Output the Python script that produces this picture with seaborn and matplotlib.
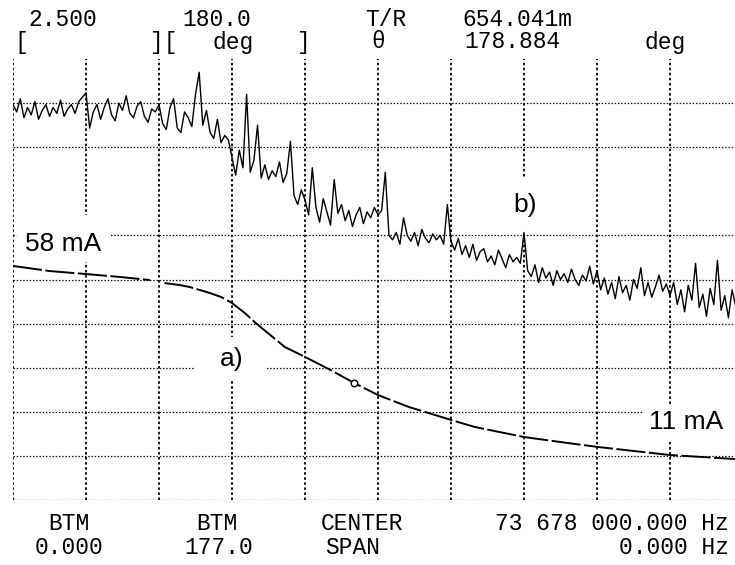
import numpy as np
import pandas as pd
import matplotlib
matplotlib.use("Agg")
import matplotlib.pyplot as plt
from matplotlib.patches import Rectangle
import seaborn as sns

sns.set_theme(style="white")
plt.rcParams["font.family"] = ["DejaVu Sans"]

# ---------------- data ----------------
# trace a): amplitude (scale 0 .. 2.5), x in sweep points (0..400 = 10 div)
amp_seg1_x = [0, 20, 40, 59, 75]
amp_seg1_y = [1.327, 1.298, 1.281, 1.264, 1.247]
amp_seg2_x = [83, 91, 97, 108, 114, 120, 127, 133, 141, 149, 160, 174, 187,
              200, 217, 240, 253, 280, 304, 321, 360, 396]
amp_seg2_y = [1.230, 1.219, 1.207, 1.173, 1.151, 1.117, 1.060, 1.003, 0.935,
              0.867, 0.811, 0.737, 0.663, 0.595, 0.527, 0.454, 0.414, 0.357,
              0.323, 0.300, 0.255, 0.232]
marker_index = 12  # analyzer marker sits on this point of segment 2

# trace b): phase in deg (scale 177 .. 180), every 2nd sweep point
phase_deg = [
    179.69, 179.64, 179.73, 179.60, 179.67, 179.62, 179.71, 179.59, 179.65, 179.69,
    179.61, 179.67, 179.63, 179.72, 179.61, 179.66, 179.69, 179.63, 179.71, 179.74,
    179.77, 179.53, 179.64, 179.69, 179.59, 179.67, 179.73, 179.62, 179.58, 179.70,
    179.65, 179.75, 179.63, 179.60, 179.68, 179.71, 179.61, 179.57, 179.66, 179.64,
    179.69, 179.56, 179.52, 179.67, 179.73, 179.53, 179.50, 179.64, 179.60, 179.54,
    179.76, 179.91, 179.55, 179.65, 179.50, 179.46, 179.59, 179.43, 179.48, 179.45,
    179.33, 179.21, 179.38, 179.26, 179.76, 179.23, 179.31, 179.55, 179.19, 179.28,
    179.18, 179.24, 179.20, 179.30, 179.16, 179.22, 179.44, 179.07, 179.01, 179.11,
    179.04, 178.94, 179.26, 178.99, 178.89, 179.05, 178.96, 178.87, 179.18, 178.95,
    179.01, 178.90, 178.97, 178.86, 178.94, 178.99, 178.88, 178.96, 178.92, 178.99,
    178.94, 178.97, 179.23, 178.80, 178.77, 178.82, 178.74, 178.92, 178.80, 178.76,
    178.82, 178.73, 178.84, 178.78, 178.75, 178.81, 178.77, 178.80, 178.74, 179.01,
    178.76, 178.70, 178.78, 178.67, 178.73, 178.65, 178.74, 178.63, 178.69, 178.71,
    178.62, 178.66, 178.60, 178.70, 178.64, 178.58, 178.67, 178.62, 178.65, 178.61,
    178.82, 178.56, 178.52, 178.60, 178.48, 178.58, 178.51, 178.55, 178.46, 178.56,
    178.50, 178.54, 178.48, 178.57, 178.50, 178.46, 178.53, 178.49, 178.59, 178.47,
    178.56, 178.43, 178.51, 178.40, 178.48, 178.37, 178.52, 178.41, 178.46, 178.36,
    178.50, 178.44, 178.58, 178.39, 178.48, 178.38, 178.45, 178.53, 178.42, 178.47,
    178.39, 178.48, 178.33, 178.43, 178.28, 178.46, 178.36, 178.61, 178.31, 178.40,
    178.25, 178.44, 178.33, 178.63, 178.29, 178.39, 178.24, 178.43, 178.32, 178.36,
]
phase_x = np.arange(0, 2 * len(phase_deg), 2)

# display annotations
top_row1 = [("2.500", 28), ("180.0", 182), ("T/R", 365), ("654.041m", 462)]
top_row2 = [("[", 14), ("][", 150), ("deg", 212), ("]", 297), ("θ", 371),
            ("178.884", 464), ("deg", 644)]
bot_row1 = [("BTM", 69, "center"), ("BTM", 217, "center"), ("CENTER", 362, "center"),
            ("73 678 000.000 Hz", 729, "right")]
bot_row2 = [("0.000", 69, "center"), ("177.0", 219, "center"), ("SPAN", 353, "center"),
            ("0.000 Hz", 729, "right")]

# ---------------- figure ----------------
W, H = 735, 565
fig = plt.figure(figsize=(W / 100, H / 100), dpi=100)
fig.patch.set_facecolor("white")

ax = fig.add_axes([13 / W, 1 - 500 / H, 730 / W, 441 / H])
ax.set_xlim(0, 400)
ax.set_ylim(0, 2.5)
ax.set_facecolor("white")
ax.set_xticks(np.arange(0, 401, 40))
ax.set_yticks([0, 0.25, 0.5, 0.75, 1.0, 1.25, 1.5, 2.0, 2.25])
ax.grid(True, axis="x", color="black", linestyle=(0, (1.4, 1.4)), linewidth=1.3)
ax.grid(True, axis="y", color="black", linestyle=(0, (1.1, 1.5)), linewidth=0.9)
ax.set_axisbelow(True)
ax.tick_params(length=0, labelleft=False, labelbottom=False)
for s in ax.spines.values():
    s.set_visible(False)

# white blanks where the labels sit on the grid
for (x0, x1, y0, y1) in [(2, 53, 1.349, 1.616),      # 58 mA
                         (99, 138, 0.680, 0.924),    # a)
                         (267, 294, 1.514, 1.825),   # b)
                         (345, 400, 0.329, 0.544)]:  # 11 mA
    ax.add_patch(Rectangle((x0, y0), x1 - x0, y1 - y0, facecolor="white",
                           edgecolor="none", zorder=1.5))

df_a = pd.DataFrame({
    "pt": amp_seg1_x + amp_seg2_x,
    "amp": amp_seg1_y + amp_seg2_y,
    "seg": [1] * len(amp_seg1_x) + [2] * len(amp_seg2_x),
})
sns.lineplot(data=df_a, x="pt", y="amp", units="seg", estimator=None, ax=ax,
             color="black", linewidth=1.4, linestyle=(0, (15, 1.8)), zorder=3,
             legend=False)
sns.scatterplot(x=[amp_seg2_x[marker_index]], y=[amp_seg2_y[marker_index]], ax=ax,
                marker="o", s=22, facecolor="white", edgecolor="black",
                linewidth=1.0, zorder=4, legend=False)

ax2 = ax.twinx()
ax2.set_ylim(177, 180)
ax2.set_xlim(0, 400)
df_b = pd.DataFrame({"pt": phase_x, "phase": phase_deg})
sns.lineplot(data=df_b, x="pt", y="phase", ax=ax2, color="black",
             linewidth=1.0, estimator=None, legend=False)
ax2.set_yticks([])
ax2.tick_params(length=0, labelright=False)
ax2.set_ylabel("")
for s in ax2.spines.values():
    s.set_visible(False)
ax.set_xlabel("")
ax.set_ylabel("")

# labels on the chart
lab_font = dict(family=["Liberation Sans", "DejaVu Sans"], fontsize=19, color="black")
ax.text(6.5, 1.45, "58 mA", ha="left", va="center", zorder=5, **lab_font)
ax.text(120, 0.80, "a)", ha="center", va="center", zorder=5, **lab_font)
ax.text(280.5, 1.67, "b)", ha="center", va="center", zorder=5, **lab_font)
ax.text(389, 0.44, "11 mA", ha="right", va="center", zorder=5, **lab_font)

# display text (dot-matrix style readouts)
mono = dict(family=["Liberation Mono", "DejaVu Sans Mono"], fontsize=16.5, color="black")
for txt, x in top_row1:
    fig.text(x / W, 1 - 20 / H, txt, ha="left", va="center", **mono)
for txt, x in top_row2:
    fig.text(x / W, 1 - 42 / H, txt, ha="left", va="center", **mono)
for txt, x, ha in bot_row1:
    fig.text(x / W, 1 - 524 / H, txt, ha=ha, va="center", **mono)
for txt, x, ha in bot_row2:
    fig.text(x / W, 1 - 547 / H, txt, ha=ha, va="center", **mono)

fig.savefig("out.png", dpi=100, facecolor="white")
